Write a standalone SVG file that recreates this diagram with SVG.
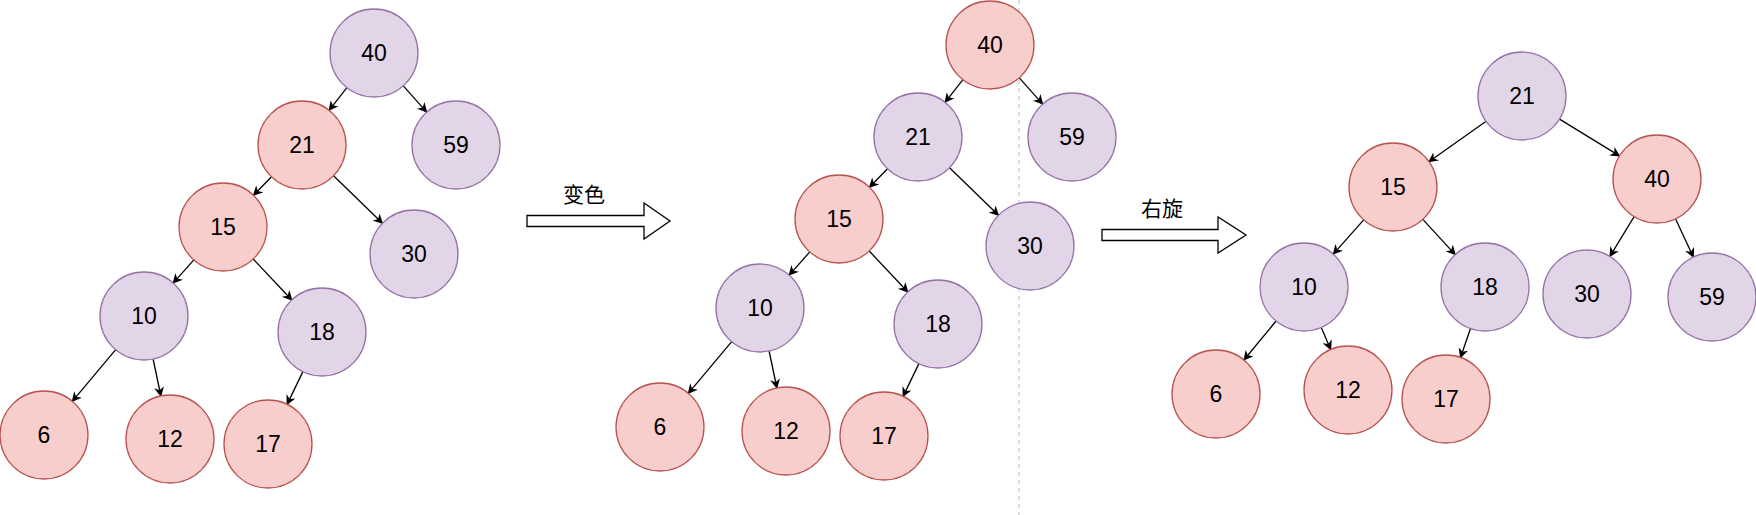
<svg xmlns="http://www.w3.org/2000/svg" width="1756" height="515" viewBox="0 0 1756 515">
<style>
.p{fill:#e1d5e7;stroke:#9673a6;stroke-width:1.3}
.r{fill:#f8cecc;stroke:#b85450;stroke-width:1.3}
text{font-family:"Liberation Sans",Arial,sans-serif;font-size:23px;fill:#000;text-anchor:middle;dominant-baseline:central}
.lbl{font-family:"Liberation Sans","Noto Sans CJK SC",sans-serif;font-size:21px}
.e line{stroke:#000;stroke-width:1.3;marker-end:url(#a)}
.blk{fill:#fff;stroke:#000;stroke-width:1.3}
</style>
<defs>
<marker id="a" viewBox="0 0 10 10" refX="9" refY="5" markerWidth="10" markerHeight="10" markerUnits="userSpaceOnUse" orient="auto">
<path d="M0,0 L10,5 L0,10 L3,5 Z" fill="#000"/>
</marker>
</defs>
<rect width="1756" height="515" fill="#fff"/>
<line x1="1019" y1="0" x2="1019" y2="515" stroke="#bbb" stroke-dasharray="4 4"/>
<g id="tree1">
<g class="e" id="edges1">
<line x1="346.9" y1="87.7" x2="329.1" y2="110.3"/>
<line x1="403.3" y1="85.9" x2="426.7" y2="112.1"/>
<line x1="271.5" y1="176.7" x2="253.5" y2="195.3"/>
<line x1="333.5" y1="175.7" x2="382.5" y2="223.3"/>
<line x1="193.8" y1="259.9" x2="173.2" y2="283.1"/>
<line x1="253.2" y1="259" x2="291.8" y2="300"/>
<line x1="115.7" y1="349.7" x2="72.3" y2="401.3"/>
<line x1="153.1" y1="359" x2="160.9" y2="396"/>
<line x1="302.9" y1="371.6" x2="287.1" y2="404.4"/>
</g>
<g id="t1n40"><circle class="p" cx="374" cy="53" r="44"/><text x="374" y="53">40</text></g>
<g id="t1n59"><circle class="p" cx="456" cy="145" r="44"/><text x="456" y="145">59</text></g>
<g id="t1n21"><circle class="r" cx="302" cy="145" r="44"/><text x="302" y="145">21</text></g>
<g id="t1n15"><circle class="r" cx="223" cy="227" r="44"/><text x="223" y="227">15</text></g>
<g id="t1n30"><circle class="p" cx="414" cy="254" r="44"/><text x="414" y="254">30</text></g>
<g id="t1n10"><circle class="p" cx="144" cy="316" r="44"/><text x="144" y="316">10</text></g>
<g id="t1n18"><circle class="p" cx="322" cy="332" r="44"/><text x="322" y="332">18</text></g>
<g id="t1n6"><circle class="r" cx="44" cy="435" r="44"/><text x="44" y="435">6</text></g>
<g id="t1n12"><circle class="r" cx="170" cy="439" r="44"/><text x="170" y="439">12</text></g>
<g id="t1n17"><circle class="r" cx="268" cy="444" r="44"/><text x="268" y="444">17</text></g>
</g>
<g id="arrow1"><polygon class="blk" points="527,215.5 644,215.5 644,203 670,221 644,239 644,226.5 527,226.5"/><text class="lbl" x="584" y="194">变色</text></g>
<g id="tree2" transform="translate(616,-8)">
<g class="e" id="edges2">
<line x1="346.9" y1="87.7" x2="329.1" y2="110.3"/>
<line x1="403.3" y1="85.9" x2="426.7" y2="112.1"/>
<line x1="271.5" y1="176.7" x2="253.5" y2="195.3"/>
<line x1="333.5" y1="175.7" x2="382.5" y2="223.3"/>
<line x1="193.8" y1="259.9" x2="173.2" y2="283.1"/>
<line x1="253.2" y1="259" x2="291.8" y2="300"/>
<line x1="115.7" y1="349.7" x2="72.3" y2="401.3"/>
<line x1="153.1" y1="359" x2="160.9" y2="396"/>
<line x1="302.9" y1="371.6" x2="287.1" y2="404.4"/>
</g>
<g id="t2n40"><circle class="r" cx="374" cy="53" r="44"/><text x="374" y="53">40</text></g>
<g id="t2n59"><circle class="p" cx="456" cy="145" r="44"/><text x="456" y="145">59</text></g>
<g id="t2n21"><circle class="p" cx="302" cy="145" r="44"/><text x="302" y="145">21</text></g>
<g id="t2n15"><circle class="r" cx="223" cy="227" r="44"/><text x="223" y="227">15</text></g>
<g id="t2n30"><circle class="p" cx="414" cy="254" r="44"/><text x="414" y="254">30</text></g>
<g id="t2n10"><circle class="p" cx="144" cy="316" r="44"/><text x="144" y="316">10</text></g>
<g id="t2n18"><circle class="p" cx="322" cy="332" r="44"/><text x="322" y="332">18</text></g>
<g id="t2n6"><circle class="r" cx="44" cy="435" r="44"/><text x="44" y="435">6</text></g>
<g id="t2n12"><circle class="r" cx="170" cy="439" r="44"/><text x="170" y="439">12</text></g>
<g id="t2n17"><circle class="r" cx="268" cy="444" r="44"/><text x="268" y="444">17</text></g>
</g>
<g id="arrow2"><polygon class="blk" points="1102,229.5 1218,229.5 1218,217 1246,235 1218,253 1218,240.5 1102,240.5"/><text class="lbl" x="1162" y="208">右旋</text></g>
<g id="tree3">
<g class="e" id="edges3">
<line x1="1486.1" y1="121.3" x2="1428.9" y2="161.7"/>
<line x1="1559.5" y1="119.1" x2="1619.5" y2="155.9"/>
<line x1="1363.7" y1="219.9" x2="1333.3" y2="254.1"/>
<line x1="1422.8" y1="219.4" x2="1455.2" y2="254.6"/>
<line x1="1634.1" y1="216.6" x2="1609.9" y2="256.4"/>
<line x1="1675.6" y1="218.9" x2="1693.4" y2="257.1"/>
<line x1="1276.1" y1="321" x2="1243.9" y2="360"/>
<line x1="1321.3" y1="327.5" x2="1330.7" y2="349.5"/>
<line x1="1470.5" y1="328.5" x2="1460.5" y2="357.5"/>
</g>
<g id="t3n21"><circle class="p" cx="1522" cy="96" r="44"/><text x="1522" y="96">21</text></g>
<g id="t3n15"><circle class="r" cx="1393" cy="187" r="44"/><text x="1393" y="187">15</text></g>
<g id="t3n40"><circle class="r" cx="1657" cy="179" r="44"/><text x="1657" y="179">40</text></g>
<g id="t3n10"><circle class="p" cx="1304" cy="287" r="44"/><text x="1304" y="287">10</text></g>
<g id="t3n18"><circle class="p" cx="1485" cy="287" r="44"/><text x="1485" y="287">18</text></g>
<g id="t3n30"><circle class="p" cx="1587" cy="294" r="44"/><text x="1587" y="294">30</text></g>
<g id="t3n59"><circle class="p" cx="1712" cy="297" r="44"/><text x="1712" y="297">59</text></g>
<g id="t3n6"><circle class="r" cx="1216" cy="394" r="44"/><text x="1216" y="394">6</text></g>
<g id="t3n12"><circle class="r" cx="1348" cy="390" r="44"/><text x="1348" y="390">12</text></g>
<g id="t3n17"><circle class="r" cx="1446" cy="399" r="44"/><text x="1446" y="399">17</text></g>
</g>
</svg>
